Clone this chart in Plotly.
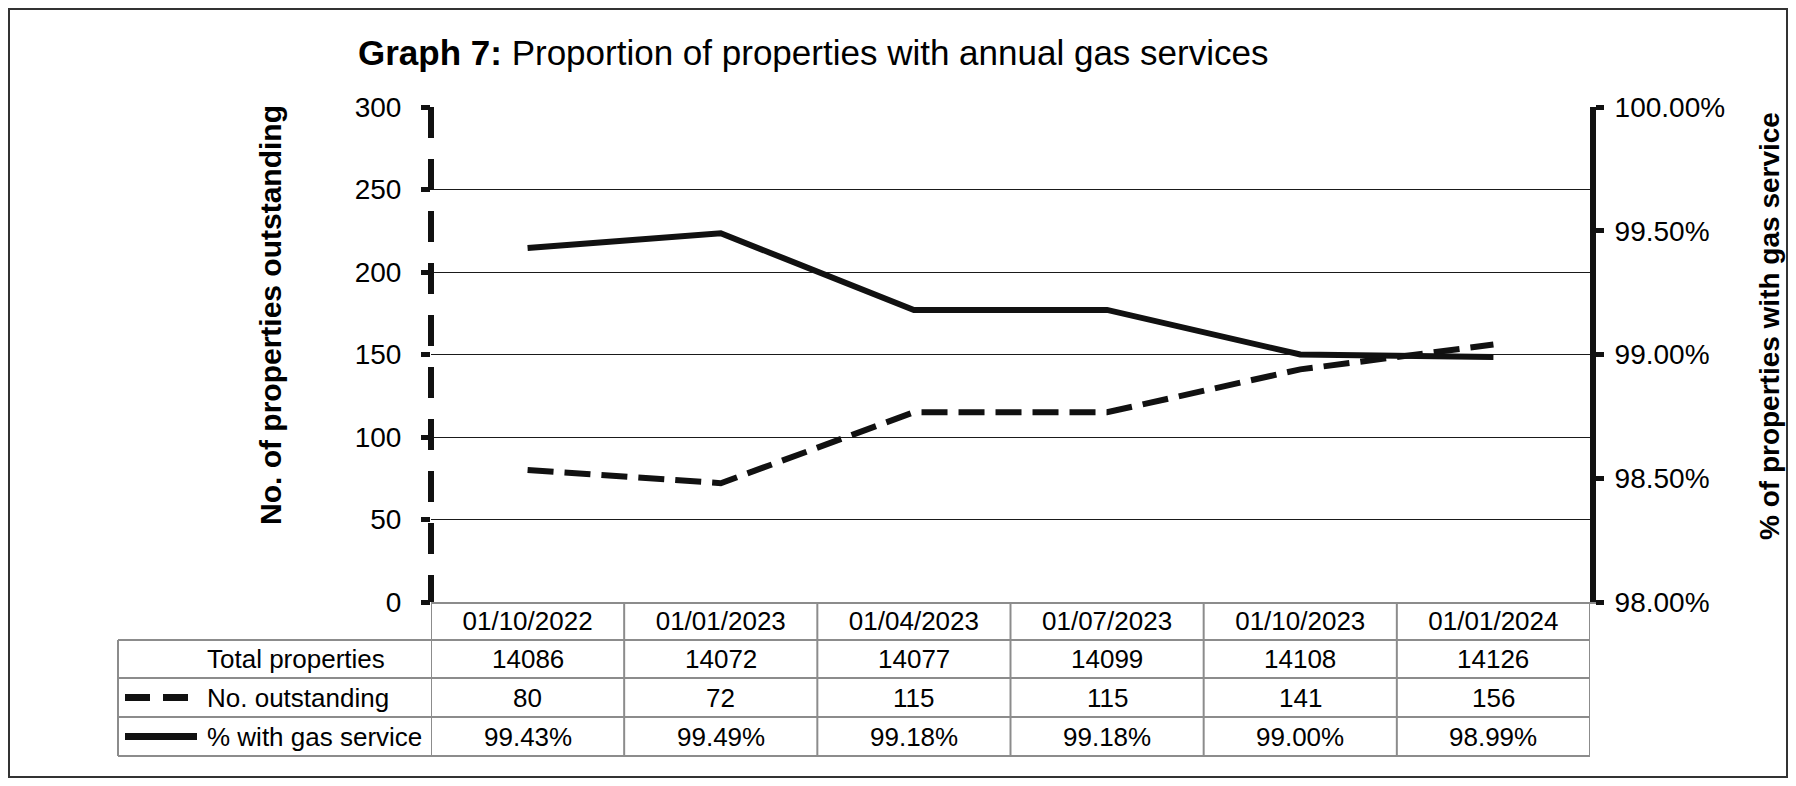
import plotly.graph_objects as go

quarters = ["01/10/2022", "01/01/2023", "01/04/2023", "01/07/2023", "01/10/2023", "01/01/2024"]
total_properties = [14086, 14072, 14077, 14099, 14108, 14126]
no_outstanding = [80, 72, 115, 115, 141, 156]
pct_with_service = [0.9943, 0.9949, 0.9918, 0.9918, 0.9900, 0.9899]

left_ticks = [0, 50, 100, 150, 200, 250, 300]
right_ticks = [0.98, 0.985, 0.99, 0.995, 1.0]
row_labels = ["Total properties", "No. outstanding", "% with gas service"]

# the page body has an 8px margin, so the figure is drawn 8px in from the window edge
OFF = 8
W, H = 1796 - 2 * OFF, 786 - 2 * OFF
# plot area in window pixels
L, R, T, B = 431, 1590, 107, 602
FONT = "Liberation Sans, Arial, sans-serif"
INK = "#111111"
CELL = "#8c8c8c"


def px(x):
    return (x - L) / (R - L)


def py(y):
    return (B - y) / (B - T)


fig = go.Figure()

fig.add_trace(go.Scatter(
    x=quarters, y=no_outstanding, mode="lines", yaxis="y",
    line=dict(color=INK, width=6, dash="26px,11px"),
    name="No. outstanding", hoverinfo="x+y"
))
fig.add_trace(go.Scatter(
    x=quarters, y=pct_with_service, mode="lines", yaxis="y2",
    line=dict(color=INK, width=6),
    name="% with gas service", hoverinfo="x+y"
))

shapes = []
annotations = []

# dashed left axis line
shapes.append(dict(type="line", xref="x domain", yref="y domain", x0=0, x1=0, y0=1, y1=0,
                   line=dict(color=INK, width=6, dash="31px,21px")))

# outer frame
shapes.append(dict(type="rect", xref="paper", yref="paper",
                   x0=px(9), x1=px(1787), y0=py(777), y1=py(9),
                   line=dict(color="#333333", width=2), layer="below"))

# data table under the x axis
row_edges = [py(640), py(678), py(717), py(756)]
row_mid = [py(621), py(659), py(697.5), py(736.5)]
n = len(quarters)
for k in range(n + 1):
    shapes.append(dict(type="line", xref="x", yref="paper", x0=k - 0.5, x1=k - 0.5,
                       y0=0, y1=row_edges[-1], line=dict(color=CELL, width=2)))
for y in row_edges:
    shapes.append(dict(type="line", xref="paper", yref="paper", x0=px(118), x1=1,
                       y0=y, y1=y, line=dict(color=CELL, width=2)))
shapes.append(dict(type="line", xref="paper", yref="paper", x0=px(118), x1=px(118),
                   y0=row_edges[0], y1=row_edges[-1], line=dict(color=CELL, width=2)))

# legend keys inside the row-label cells
shapes.append(dict(type="line", xref="paper", yref="paper", x0=px(125), x1=px(190),
                   y0=row_mid[2], y1=row_mid[2], line=dict(color=INK, width=7, dash="25px,13px")))
shapes.append(dict(type="line", xref="paper", yref="paper", x0=px(125), x1=px(197),
                   y0=row_mid[3], y1=row_mid[3], line=dict(color=INK, width=7)))

cell_font = dict(family=FONT, size=26, color="#000")
for label, y in zip(row_labels, row_mid[1:]):
    annotations.append(dict(text=label, xref="paper", yref="paper", x=px(205), y=y,
                            xanchor="left", yanchor="middle", showarrow=False, font=cell_font))
for q, tot, out, pct in zip(quarters, total_properties, no_outstanding, pct_with_service):
    for text, y in zip([str(tot), str(out), f"{pct:.2%}"], row_mid[1:]):
        annotations.append(dict(text=text, xref="x", yref="paper", x=q, y=y,
                                xanchor="center", yanchor="middle", showarrow=False, font=cell_font))

# axis titles
annotations.append(dict(text="<b>No. of properties outstanding</b>", xref="paper", yref="paper",
                        x=px(270), y=py(315), xanchor="center", yanchor="middle", textangle=-90,
                        showarrow=False, font=dict(family=FONT, size=30, color="#000")))
annotations.append(dict(text="<b>% of properties with gas service</b>", xref="paper", yref="paper",
                        x=px(1769), y=py(326), xanchor="center", yanchor="middle", textangle=-90,
                        showarrow=False, font=dict(family=FONT, size=28, color="#000")))

tick_font = dict(family=FONT, size=28, color="#000")
fig.update_layout(
    width=W, height=H,
    margin=dict(l=L - OFF, r=W - (R - OFF), t=T - OFF, b=H - (B - OFF)),
    paper_bgcolor="white", plot_bgcolor="white",
    showlegend=False,
    title=dict(text="<b>Graph 7:</b> Proportion of properties with annual gas services",
               xref="container", yref="container", x=(358 - OFF) / W, y=1 - (53 - OFF) / H,
               xanchor="left", yanchor="middle",
               font=dict(family=FONT, size=35, color="#000")),
    xaxis=dict(type="category", range=[-0.5, n - 0.5], showgrid=False, zeroline=False,
               showline=True, linecolor=CELL, linewidth=2, ticks="",
               tickfont=dict(family=FONT, size=26, color="#000"), ticklabelstandoff=-5),
    yaxis=dict(range=[0, 300], tickvals=left_ticks, showgrid=True, gridcolor="#1a1a1a",
               gridwidth=1, zeroline=False, showline=False, ticks="outside", ticklen=9,
               tickwidth=5, tickcolor=INK, tickfont=tick_font, ticklabelstandoff=14),
    yaxis3=dict(range=[0, 300], tickvals=left_ticks, overlaying="y", side="left", anchor="x",
                showgrid=False, zeroline=False, showline=False, ticks="inside", ticklen=9,
                tickwidth=5, tickcolor=INK, showticklabels=False),
    yaxis2=dict(range=[0.98, 1.0], tickvals=right_ticks, tickformat=".2%", overlaying="y",
                side="right", anchor="x", showgrid=False, zeroline=False, showline=True,
                linecolor=INK, linewidth=6, ticks="outside", ticklen=8, tickwidth=5,
                tickcolor=INK, tickfont=tick_font, ticklabelstandoff=5),
    yaxis4=dict(range=[0.98, 1.0], tickvals=right_ticks, overlaying="y", side="right", anchor="x",
                showgrid=False, zeroline=False, showline=False, ticks="inside", ticklen=8,
                tickwidth=5, tickcolor=INK, showticklabels=False),
    shapes=shapes,
    annotations=annotations,
)

fig.write_html("out.html")
